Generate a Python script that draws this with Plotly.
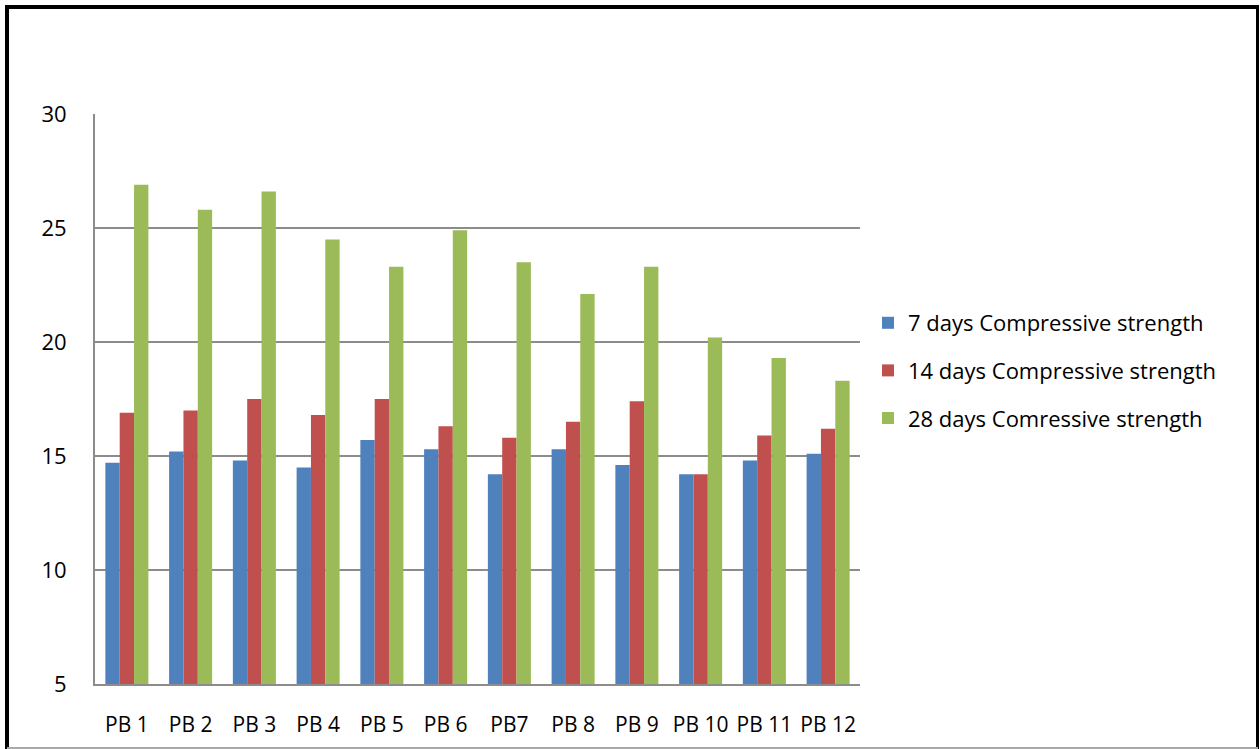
import plotly.graph_objects as go

categories = ["PB 1", "PB 2", "PB 3", "PB 4", "PB 5", "PB 6", "PB7", "PB 8", "PB 9", "PB 10", "PB 11", "PB 12"]
days7 = [14.7, 15.2, 14.8, 14.5, 15.7, 15.3, 14.2, 15.3, 14.6, 14.2, 14.8, 15.1]
days14 = [16.9, 17.0, 17.5, 16.8, 17.5, 16.3, 15.8, 16.5, 17.4, 14.2, 15.9, 16.2]
days28 = [26.9, 25.8, 26.6, 24.5, 23.3, 24.9, 23.5, 22.1, 23.3, 20.2, 19.3, 18.3]
series_names = ["7 days Compressive strength", "14 days Compressive strength", "28 days Comressive strength"]
colors = ["#4F81BD", "#C0504D", "#9BBB59"]

W, H = 1260, 749
L, R, T, B = 95, 400, 114, 65
pw, ph = W - L - R, H - T - B

fig = go.Figure()
for i, (name, vals, c) in enumerate(zip(series_names, [days7, days14, days28], colors)):
    fig.add_trace(go.Bar(x=categories, y=vals, name=name, legendgroup=f"g{i}",
                         marker=dict(color=c, line=dict(width=0))))

FONT = "Open Sans, Noto Sans, sans-serif"

def px2paper_x(px):
    return (px - L) / pw

def px2paper_y(py):
    return (H - B - py) / ph

shapes = [
    dict(type="line", xref="paper", yref="paper", x0=px2paper_x(5), x1=px2paper_x(1259),
         y0=px2paper_y(7), y1=px2paper_y(7), line=dict(color="black", width=4)),
    dict(type="line", xref="paper", yref="paper", x0=px2paper_x(7), x1=px2paper_x(7),
         y0=px2paper_y(5), y1=px2paper_y(749), line=dict(color="black", width=4)),
    dict(type="line", xref="paper", yref="paper", x0=px2paper_x(1257.5), x1=px2paper_x(1257.5),
         y0=px2paper_y(5), y1=px2paper_y(749), line=dict(color="black", width=3)),
    dict(type="line", xref="paper", yref="paper", x0=px2paper_x(7), x1=px2paper_x(1258),
         y0=px2paper_y(748), y1=px2paper_y(748), line=dict(color="#aaaaaa", width=2)),
]

fig.update_layout(
    width=W, height=H,
    margin=dict(l=L, r=R, t=T, b=B, autoexpand=False),
    paper_bgcolor="white", plot_bgcolor="white",
    barmode="group", bargap=0.325, bargroupgap=0,
    font=dict(family=FONT, size=22, color="black"),
    showlegend=True,
    legend=dict(x=px2paper_x(868), y=px2paper_y(302), xanchor="left", yanchor="top",
                font=dict(family=FONT, size=22, color="black"),
                itemwidth=30, tracegroupgap=16, bgcolor="rgba(0,0,0,0)"),
    shapes=shapes,
    xaxis=dict(showline=True, linecolor="#8c8c8c", linewidth=2, showgrid=False,
               ticks="", ticklabelstandoff=21, tickfont=dict(size=21)),
    yaxis=dict(range=[5, 30], tickvals=[5, 10, 15, 20, 25, 30], showline=True,
               linecolor="#8c8c8c", linewidth=2, showgrid=True, gridcolor="#8c8c8c",
               gridwidth=2, ticks="", ticklabelstandoff=22, zeroline=False,
               tickfont=dict(size=22)),
)

fig.write_html("out.html", config={"displayModeBar": False},
               post_script="document.body.style.margin='0';document.body.style.overflow='hidden';")
